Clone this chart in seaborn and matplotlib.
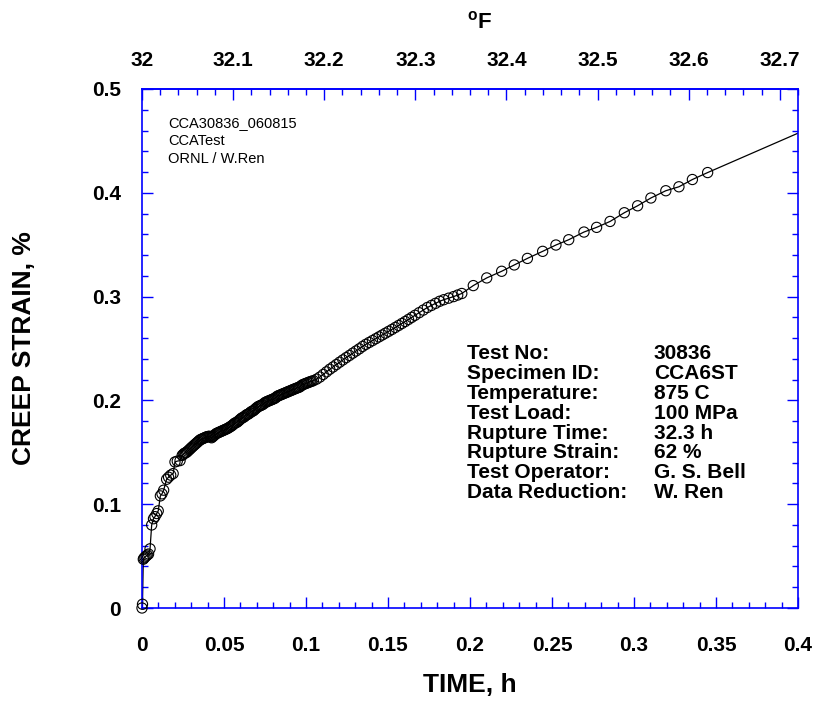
import numpy as np
import pandas as pd
import matplotlib
matplotlib.use("Agg")
import matplotlib.pyplot as plt
from matplotlib.ticker import MultipleLocator, FixedLocator, FixedFormatter
import seaborn as sns

# ---- creep test record: time (h) vs creep strain (%) ----
# primary stage
time_primary = [
    0.0, 0.0003, 0.0008, 0.0012, 0.0018, 0.0025, 0.0032, 0.0040, 0.0049, 0.0059,
    0.0070, 0.0079, 0.0090, 0.0099, 0.0112, 0.0122, 0.0132, 0.0150, 0.0162, 0.0175,
    0.0190, 0.0201, 0.0215, 0.0232,
]
strain_primary = [
    0.0, 0.0036, 0.047, 0.048, 0.049, 0.050, 0.051, 0.052, 0.057, 0.080,
    0.086, 0.088, 0.091, 0.0936, 0.108, 0.110, 0.1135, 0.124, 0.126, 0.128,
    0.1295, 0.1407, 0.1415, 0.142,
]
# densely logged transition
time_dense = [
    0.0245, 0.0252, 0.0258, 0.0265, 0.0272, 0.0278, 0.0285, 0.0292, 0.0298, 0.0305,
    0.0312, 0.0319, 0.0326, 0.0333, 0.0340, 0.0347, 0.0354, 0.0361, 0.0368, 0.0375,
    0.0382, 0.0389, 0.0396, 0.0403, 0.0410, 0.0417, 0.0424, 0.0431, 0.0438, 0.0445,
    0.0452, 0.0459, 0.0466, 0.0473, 0.0480, 0.0487, 0.0494, 0.0501, 0.0508, 0.0515,
    0.0522, 0.0530, 0.0537, 0.0544, 0.0551, 0.0558, 0.0565, 0.0572, 0.0580, 0.0587,
    0.0594, 0.0601, 0.0608, 0.0615, 0.0622, 0.0629, 0.0636, 0.0643, 0.0650, 0.0658,
    0.0665, 0.0672, 0.0679, 0.0686, 0.0693, 0.0700, 0.0708, 0.0715, 0.0722, 0.0729,
    0.0736, 0.0744, 0.0751, 0.0758, 0.0765, 0.0772, 0.0780, 0.0788, 0.0795, 0.0802,
    0.0810, 0.0818, 0.0825, 0.0832, 0.0840, 0.0848, 0.0855, 0.0862, 0.0870, 0.0878,
    0.0885, 0.0892, 0.0900, 0.0908, 0.0915, 0.0922, 0.0930, 0.0938, 0.0946, 0.0954,
    0.0962, 0.0970, 0.0978, 0.0986, 0.0994, 0.1002, 0.1010, 0.1018, 0.1026, 0.1035,
    0.1045,
]
strain_dense = [
    0.1470, 0.1480, 0.1490, 0.1495, 0.1500, 0.1510, 0.1520, 0.1530, 0.1540, 0.1550,
    0.1560, 0.1570, 0.1580, 0.1590, 0.1600, 0.1610, 0.1620, 0.1625, 0.1630, 0.1635,
    0.1640, 0.1645, 0.1650, 0.1652, 0.1655, 0.1648, 0.1640, 0.1650, 0.1660, 0.1670,
    0.1680, 0.1685, 0.1690, 0.1695, 0.1700, 0.1705, 0.1710, 0.1715, 0.1720, 0.1725,
    0.1730, 0.1738, 0.1745, 0.1752, 0.1760, 0.1770, 0.1780, 0.1785, 0.1790, 0.1800,
    0.1810, 0.1820, 0.1830, 0.1835, 0.1840, 0.1850, 0.1860, 0.1865, 0.1870, 0.1880,
    0.1890, 0.1895, 0.1900, 0.1910, 0.1920, 0.1930, 0.1940, 0.1945, 0.1950, 0.1955,
    0.1960, 0.1970, 0.1980, 0.1985, 0.1990, 0.1995, 0.2000, 0.2005, 0.2010, 0.2015,
    0.2020, 0.2030, 0.2040, 0.2045, 0.2050, 0.2055, 0.2060, 0.2065, 0.2070, 0.2075,
    0.2080, 0.2085, 0.2090, 0.2095, 0.2100, 0.2105, 0.2110, 0.2115, 0.2120, 0.2125,
    0.2130, 0.2140, 0.2150, 0.2155, 0.2160, 0.2165, 0.2170, 0.2175, 0.2180, 0.2185,
    0.2190,
]
# secondary stage
time_secondary = [
    0.1065, 0.1085, 0.1105, 0.1125, 0.1145, 0.1165, 0.1185, 0.1205, 0.1225, 0.1245,
    0.1265, 0.1285, 0.1305, 0.1325, 0.1345, 0.1365, 0.1385, 0.1405, 0.1425, 0.1445,
    0.1465, 0.1485, 0.1505, 0.1525, 0.1545, 0.1565, 0.1585, 0.1605, 0.1625, 0.1645,
    0.1665, 0.1690, 0.1715, 0.1740, 0.1765, 0.1790, 0.1815, 0.1840, 0.1870, 0.1900,
    0.1925, 0.1950, 0.2020, 0.2102, 0.2193, 0.2270, 0.2350, 0.2443, 0.2524, 0.2602,
    0.2695, 0.2772, 0.2854, 0.2941, 0.3022, 0.3103, 0.3194, 0.3274, 0.3356, 0.3449,
]
strain_secondary = [
    0.2205, 0.2225, 0.2250, 0.2275, 0.2300, 0.2322, 0.2345, 0.2368, 0.2390, 0.2412,
    0.2433, 0.2455, 0.2476, 0.2497, 0.2520, 0.2540, 0.2558, 0.2576, 0.2594, 0.2612,
    0.2630, 0.2648, 0.2666, 0.2684, 0.2703, 0.2722, 0.2741, 0.2760, 0.2780, 0.2800,
    0.2820, 0.2845, 0.2870, 0.2895, 0.2915, 0.2935, 0.2955, 0.2970, 0.2985, 0.3000,
    0.3015, 0.3030, 0.3106, 0.3180, 0.3244, 0.3305, 0.3368, 0.3436, 0.3497, 0.3548,
    0.3622, 0.3667, 0.3724, 0.3808, 0.3875, 0.3950, 0.4020, 0.4058, 0.4128, 0.4195,
]
# the recorded curve continues past the plotted window
tail_time_h = [0.4200]
tail_strain_pct = [0.4712]

x_ticks = [0, 0.05, 0.1, 0.15, 0.2, 0.25, 0.3, 0.35, 0.4]
x_tick_labels = ["0", "0.05", "0.1", "0.15", "0.2", "0.25", "0.3", "0.35", "0.4"]
y_ticks = [0, 0.1, 0.2, 0.3, 0.4, 0.5]
y_tick_labels = ["0", "0.1", "0.2", "0.3", "0.4", "0.5"]
f_ticks = [32.0, 32.1, 32.2, 32.3, 32.4, 32.5, 32.6, 32.7]
f_tick_labels = ["32", "32.1", "32.2", "32.3", "32.4", "32.5", "32.6", "32.7"]

header_lines = ["CCA30836_060815", "CCATest", "ORNL / W.Ren"]
info_keys = ["Test No:", "Specimen ID:", "Temperature:", "Test Load:",
             "Rupture Time:", "Rupture Strain:", "Test Operator:", "Data Reduction:"]
info_values = ["30836", "CCA6ST", "875 C", "100 MPa",
               "32.3 h", "62 %", "G. S. Bell", "W. Ren"]

sns.set_theme(style="white")
plt.rcParams["font.family"] = ["Liberation Sans", "DejaVu Sans"]
plt.rcParams["text.color"] = "black"
plt.rcParams["axes.labelcolor"] = "black"
plt.rcParams["mathtext.fontset"] = "custom"
plt.rcParams["mathtext.rm"] = "Liberation Sans"
plt.rcParams["mathtext.bf"] = "Liberation Sans:bold"

AXIS_BLUE = "#0000ff"

fig = plt.figure(figsize=(8.15, 7.10), dpi=100)
ax = fig.add_axes([142 / 815, 1 - 608 / 710, 656 / 815, 519 / 710])

time_h = time_primary + time_dense + time_secondary
strain_pct = strain_primary + strain_dense + strain_secondary
pts = pd.DataFrame({"time": time_h, "strain": strain_pct})
curve = pd.DataFrame({"time": time_h + tail_time_h,
                      "strain": strain_pct + tail_strain_pct})

sns.lineplot(data=curve, x="time", y="strain", sort=False, estimator=None,
             color="black", linewidth=0.9, ax=ax, zorder=2)
sns.scatterplot(data=pts, x="time", y="strain", marker="o", s=54,
                facecolors="none", edgecolor="black", linewidth=0.8,
                ax=ax, zorder=3, clip_on=False)

ax.set_xlim(0, 0.4)
ax.set_ylim(0, 0.5)

# bottom / left scales
ax.xaxis.set_major_locator(FixedLocator(x_ticks))
ax.xaxis.set_major_formatter(FixedFormatter(x_tick_labels))
ax.xaxis.set_minor_locator(MultipleLocator(0.01))
ax.yaxis.set_major_locator(FixedLocator(y_ticks))
ax.yaxis.set_major_formatter(FixedFormatter(y_tick_labels))
ax.yaxis.set_minor_locator(MultipleLocator(0.02))

for side in ["left", "right", "top", "bottom"]:
    ax.spines[side].set_visible(True)
    ax.spines[side].set_color(AXIS_BLUE)
    ax.spines[side].set_linewidth(1.2)

ax.tick_params(which="both", direction="in", colors=AXIS_BLUE,
               labelcolor="black", left=True, right=True, bottom=True, top=False)
ax.tick_params(which="major", length=8, width=1.0)
ax.tick_params(which="minor", length=4, width=1.0)
ax.tick_params(axis="x", which="major", pad=20)
ax.tick_params(axis="y", which="major", pad=15)
for lab in ax.get_xticklabels() + ax.get_yticklabels():
    lab.set_fontsize(15)
    lab.set_fontweight("bold")
    lab.set_color("black")

ax.set_xlabel("TIME, h", fontsize=19, fontweight="bold", labelpad=13,
              color="black")
ax.set_ylabel("CREEP STRAIN, %", fontsize=19, fontweight="bold", labelpad=40,
              color="black")

# top scale in degrees Fahrenheit
sec = ax.secondary_xaxis("top", functions=(lambda t: 32 + 1.8 * t,
                                           lambda f: (f - 32) / 1.8))
sec.xaxis.set_major_locator(FixedLocator(f_ticks))
sec.xaxis.set_major_formatter(FixedFormatter(f_tick_labels))
sec.xaxis.set_minor_locator(MultipleLocator(0.02))
sec.spines["top"].set_color(AXIS_BLUE)
sec.spines["top"].set_linewidth(1.2)
sec.tick_params(which="both", direction="in", colors=AXIS_BLUE, labelcolor="black")
sec.tick_params(which="major", length=8, width=1.0, pad=14)
sec.tick_params(which="minor", length=4, width=1.0)
for lab in sec.get_xticklabels():
    lab.set_fontsize(15)
    lab.set_fontweight("bold")
    lab.set_color("black")
fig.text(480 / 815, 1 - 22 / 710, r"$^{\mathbf{o}}$F", fontsize=16,
         fontweight="bold", ha="center", va="center", color="black")

# header block
for i, line in enumerate(header_lines):
    ax.text((168 - 142) / 656, (608 - (123 + 18 * i)) / 519, line,
            transform=ax.transAxes, fontsize=10.5, ha="left", va="center",
            color="black")

# test summary table
for i, (k, v) in enumerate(zip(info_keys, info_values)):
    yy = (608 - (353.5 + 19.9 * i)) / 519
    ax.text((467 - 142) / 656, yy, k, transform=ax.transAxes, fontsize=15,
            fontweight="bold", ha="left", va="center", color="black")
    ax.text((654 - 142) / 656, yy, v, transform=ax.transAxes, fontsize=15,
            fontweight="bold", ha="left", va="center", color="black")

fig.savefig("out.png", dpi=100)
